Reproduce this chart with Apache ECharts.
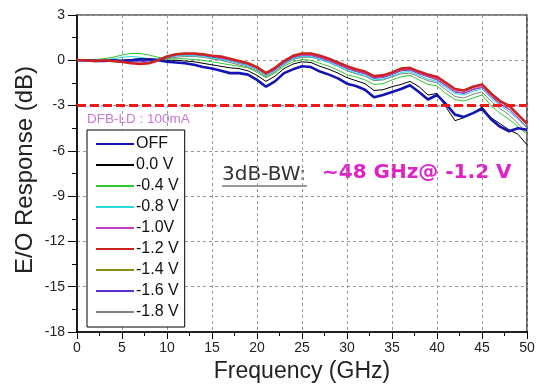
<!DOCTYPE html>
<html>
<head>
<meta charset="utf-8">
<script src="https://cdn.jsdelivr.net/npm/echarts@6/dist/echarts.min.js"></script>
<style>
  html, body { margin: 0; padding: 0; background: #fff; }
  #chart { width: 539px; height: 390px; }
</style>
</head>
<body>
<div id="chart"></div>
<script>
// frequency points (GHz)
const freq = [0,1,2,3,4,5,6,7,8,9,10,11,12,13,14,15,16,17,18,19,20,21,22,23,24,25,
  26,27,28,29,30,31,32,33,34,35,36,37,38,39,40,41,42,43,44,45,46,47,48,49,50];

// E/O response (dB)
const vOff = [0,0,-0.05,-0.05,0,-0.05,0,0.05,0.05,0,-0.1,-0.15,-0.2,-0.3,-0.45,-0.55,-0.7,-0.85,-0.85,-0.95,
  -1.3,-1.75,-1.4,-0.85,-0.6,-0.4,-0.45,-0.75,-0.95,-1.2,-1.55,-1.7,-1.95,-2.45,-2.3,-2.1,-1.9,-1.65,-2.1,-2.6,
  -2.3,-2.9,-3.6,-3.75,-3.5,-3.2,-3.9,-4.4,-4.7,-4.5,-4.6];
const v00 = [0,0,0,-0.05,0,0,0.05,0.1,0.1,0.05,0,0,-0.05,-0.1,-0.2,-0.3,-0.4,-0.5,-0.55,-0.7,
  -1.0,-1.4,-1.05,-0.55,-0.25,-0.1,-0.15,-0.4,-0.6,-0.85,-1.15,-1.35,-1.55,-2.0,-1.95,-1.75,-1.6,-1.4,-1.75,-2.3,
  -2.2,-3.1,-4.0,-3.8,-3.5,-3.1,-3.8,-4.2,-4.6,-4.9,-5.6];
const vM04 = [0,0,0.05,0.1,0.2,0.35,0.45,0.45,0.35,0.2,0.1,0.1,0.1,0.05,0,-0.1,-0.2,-0.3,-0.4,-0.5,
  -0.8,-1.15,-0.85,-0.4,-0.1,0.05,0,-0.2,-0.4,-0.65,-0.95,-1.1,-1.3,-1.6,-1.55,-1.3,-1.1,-1.0,-1.3,-1.6,
  -1.7,-2.2,-2.6,-2.7,-2.5,-2.3,-3.0,-3.5,-3.9,-4.4,-4.9];
const vM08 = [0,0,0,0.05,0.1,0.2,0.25,0.2,0.1,0.1,0.2,0.3,0.3,0.3,0.25,0.15,0.05,-0.05,-0.2,-0.35,
  -0.6,-1.0,-0.7,-0.25,0.1,0.25,0.25,0.05,-0.15,-0.4,-0.65,-0.85,-1.0,-1.3,-1.25,-1.05,-0.8,-0.75,-1.0,-1.25,
  -1.4,-1.8,-2.2,-2.3,-2.05,-1.9,-2.5,-3.0,-3.4,-3.9,-4.5];
const vM10 = [0,0,-0.05,0,-0.05,-0.1,-0.15,-0.2,-0.15,0,0.2,0.35,0.4,0.4,0.35,0.25,0.15,0,-0.15,-0.3,
  -0.55,-0.95,-0.6,-0.15,0.2,0.35,0.35,0.2,0,-0.25,-0.5,-0.7,-0.85,-1.15,-1.1,-0.9,-0.65,-0.6,-0.85,-1.05,
  -1.25,-1.65,-2.05,-2.15,-1.9,-1.75,-2.35,-2.85,-3.2,-3.8,-4.45];
const vM12 = [0,0,-0.05,0,-0.05,-0.1,-0.2,-0.25,-0.2,0,0.25,0.4,0.45,0.45,0.4,0.3,0.25,0.1,-0.05,-0.2,
  -0.45,-0.85,-0.5,-0.05,0.3,0.45,0.45,0.3,0.1,-0.15,-0.4,-0.6,-0.75,-1.05,-1.0,-0.8,-0.55,-0.5,-0.75,-0.95,
  -1.1,-1.5,-1.9,-2.0,-1.75,-1.6,-2.2,-2.7,-3.0,-3.6,-4.2];
const vM14 = [0,0,-0.05,-0.05,-0.1,-0.15,-0.2,-0.2,-0.15,0.05,0.25,0.4,0.45,0.4,0.35,0.3,0.2,0.05,-0.1,-0.25,
  -0.5,-0.9,-0.55,-0.1,0.25,0.4,0.4,0.25,0.05,-0.2,-0.45,-0.65,-0.8,-1.1,-1.05,-0.85,-0.6,-0.55,-0.8,-1.0,
  -1.15,-1.55,-1.95,-2.05,-1.8,-1.65,-2.25,-2.75,-3.05,-3.65,-4.3];
const vM16 = [0,-0.05,-0.05,0,-0.05,-0.05,-0.1,-0.1,-0.05,0.05,0.15,0.3,0.35,0.35,0.3,0.2,0.1,-0.05,-0.2,-0.35,
  -0.6,-1.0,-0.65,-0.2,0.15,0.3,0.3,0.15,-0.05,-0.3,-0.55,-0.75,-0.9,-1.2,-1.15,-0.95,-0.7,-0.65,-0.9,-1.1,
  -1.3,-1.7,-2.1,-2.2,-1.95,-1.8,-2.4,-2.9,-3.25,-3.85,-4.5];
const vM18 = [0,0,-0.05,-0.05,0,0,0,0,0,0.05,0.1,0.2,0.25,0.25,0.2,0.1,0,-0.15,-0.3,-0.45,
  -0.7,-1.1,-0.75,-0.3,0.05,0.2,0.2,0.05,-0.15,-0.4,-0.7,-0.9,-1.05,-1.35,-1.3,-1.1,-0.9,-0.85,-1.1,-1.35,
  -1.5,-1.95,-2.4,-2.5,-2.25,-2.1,-2.7,-3.2,-3.6,-4.2,-4.8];

const threshold = -3;
const legendNames = ['OFF', '0.0 V', '-0.4 V', '-0.8 V', '-1.0V', '-1.2 V', '-1.4 V', '-1.6 V', '-1.8 V'];

const pairs = (ys) => freq.map((f, i) => [f, ys[i]]);

const line = (name, ys, color, width, extra) => Object.assign({
  name: name,
  type: 'line',
  data: pairs(ys),
  symbol: 'none',
  smooth: false,
  animation: false,
  lineStyle: {color: color, width: width},
  itemStyle: {color: color}
}, extra || {});

const chart = echarts.init(document.getElementById('chart'));
chart.setOption({
  backgroundColor: '#fff',
  animation: false,
  grid: {left: 77, right: 12, top: 15, bottom: 58, show: true, borderColor: '#000', borderWidth: 1.2},
  legend: {
    data: legendNames,
    orient: 'vertical',
    left: 87,
    top: 130,
    itemWidth: 38,
    itemHeight: 14,
    itemGap: 5,
    padding: [6, 6, 7, 8],
    backgroundColor: '#fff',
    borderColor: '#000',
    borderWidth: 1,
    borderRadius: 0,
    selectedMode: false,
    itemStyle: {opacity: 0},
    textStyle: {fontFamily: 'Liberation Sans, Arial', fontSize: 16, color: '#111', padding: [0, 0, 0, -3]}
  },
  xAxis: {
    type: 'value',
    min: 0, max: 50, interval: 5,
    name: 'Frequency (GHz)',
    nameLocation: 'middle',
    nameGap: 28,
    nameTextStyle: {fontFamily: 'Liberation Sans, Arial', fontSize: 23, color: '#222'},
    axisLine: {show: true, onZero: false, lineStyle: {color: '#000', width: 1.5}},
    axisTick: {show: true, inside: false, length: 7, lineStyle: {color: '#000'}},
    minorTick: {show: true, splitNumber: 2, length: 4, lineStyle: {color: '#000'}},
    axisLabel: {fontFamily: 'Liberation Sans, Arial', fontSize: 14, color: '#222', margin: 9},
    splitLine: {show: true, lineStyle: {color: '#999', type: [3, 3], width: 1}}
  },
  yAxis: {
    type: 'value',
    min: -18, max: 3, interval: 3,
    name: 'E/O Response (dB)',
    nameLocation: 'middle',
    nameGap: 40,
    nameMoveOverlap: false,
    nameTextStyle: {fontFamily: 'Liberation Sans, Arial', fontSize: 24, color: '#222', padding: [0, 0, 0, 7]},
    axisLine: {show: true, onZero: false, lineStyle: {color: '#000', width: 1.5}},
    axisTick: {show: true, inside: false, length: 9, lineStyle: {color: '#000'}},
    minorTick: {show: true, splitNumber: 2, length: 5, lineStyle: {color: '#000'}},
    axisLabel: {fontFamily: 'Liberation Sans, Arial', fontSize: 14, color: '#222', margin: 12},
    splitLine: {show: true, lineStyle: {color: '#999', type: [3, 3], width: 1}}
  },
  series: [
    line('-1.8 V', vM18, '#808080', 1),
    line('-1.6 V', vM16, '#5a2fd0', 1),
    line('-1.4 V', vM14, '#8c8c10', 1),
    line('-1.0V', vM10, '#c83cc8', 1),
    line('-0.8 V', vM08, '#2ad8d8', 1),
    line('-0.4 V', vM04, '#30c830', 1),
    line('0.0 V', v00, '#000000', 1),
    line('OFF', vOff, '#1414b4', 2.6),
    line('-1.2 V', vM12, '#cc2222', 2.6, {
      markLine: {
        silent: true,
        symbol: 'none',
        label: {show: false},
        lineStyle: {color: '#f01818', type: [9, 4], width: 3},
        data: [{yAxis: threshold}]
      }
    })
  ],
  graphic: [
    {type: 'text', left: 87, top: 112, style: {text: 'DFB-LD : 100mA', fill: '#c878d6',
      font: '13.5px "Liberation Sans", Arial'}},
    {type: 'text', left: 222, top: 165, style: {text: '3dB-BW:', fill: '#333',
      font: '20px "DejaVu Sans", sans-serif'}},
    {type: 'line', shape: {x1: 222, y1: 186, x2: 307, y2: 186}, style: {stroke: '#333', lineWidth: 1.2}},
    {type: 'text', left: 322, top: 163, style: {text: '~48 GHz@ -1.2 V', fill: '#e020c8',
      font: 'bold 20px "DejaVu Sans", sans-serif'}}
  ]
});
</script>
</body>
</html>
